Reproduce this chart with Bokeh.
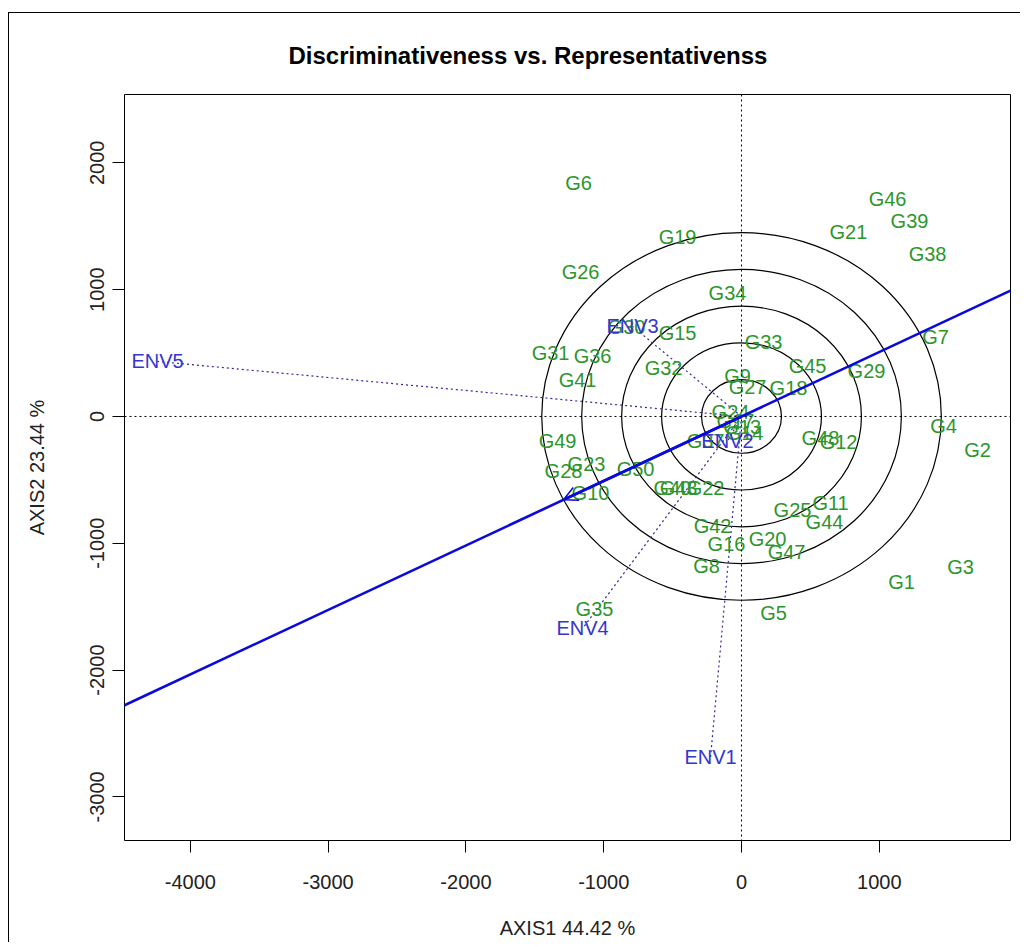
from bokeh.plotting import figure
from bokeh.models import (ColumnDataSource, Range1d, FixedTicker, Slope, Span, Arrow,
                          OpenHead, CustomJSTickFormatter)
from bokeh.core.properties import value
from bokeh.embed import file_html
from bokeh.resources import INLINE

# ---------------- data ----------------
GENOTYPES = ["G%d" % i for i in range(1, 51)]
GEN_X = [1161, 1713, 1589, 1466, 232, -1183, 1408, -254, -29, -1096,
         646, 704, 5, 22, -464, -109, -44, 341, -464, 189,
         776, -261, -1125, -80, 370, -1168, 44, -1292, 907, -835,
         -1386, -566, 160, -102, -1067, -1081, -261, 1350, 1219, -501,
         -1190, -210, -457, 602, 479, 1060, 327, 573, -1335, -769]
GEN_Y = [-1309, -268, -1191, -79, -1546, 1845, 623, -1183, 323, -607,
         -686, -205, -87, -134, 662, -1009, -39, 221, 1419, -970,
         1451, -568, -371, 32, -741, 1136, 229, -434, 355, 702,
         497, 379, 584, 970, -1522, 473, -197, 1285, 1538, -568,
         284, -860, -568, -836, 394, 1711, -1065, -166, -197, -418]

ENVIRONMENTS = ["ENV1", "ENV2", "ENV3", "ENV4", "ENV5"]
ENV_X = [-225, -102, -791, -1154, -4238]
ENV_Y = [-2689, -197, 710, -1672, 434]

AEC_X = -1292
AEC_Y = -657

CIRCLE_RADII = [290, 580, 870, 1160, 1450]

X_TICKS = [-4000, -3000, -2000, -1000, 0, 1000]
Y_TICKS = [-3000, -2000, -1000, 0, 1000, 2000]

TITLE = "Discriminativeness vs. Representativenss"
X_LABEL = "AXIS1 44.42 %"
Y_LABEL = "AXIS2 23.44 %"

# ---------------- styling ----------------
FONT = "Liberation Sans"
GREEN = "#2c962c"
BLUE_TXT = "#3535d0"
BLUE_LINE = "#0a0adc"
BLUE_DOT = "#2a2aa0"

p = figure(width=1012, height=930, output_backend="svg", toolbar_location=None,
           x_range=Range1d(-4478, 1952), y_range=Range1d(-3344, 2539),
           min_border_left=115, min_border_right=11, min_border_top=81,
           min_border_bottom=103)
p.styles = {"border-left": "1px solid black", "border-top": "1px solid black",
            "margin-top": "12px", "margin-left": "8px"}
p.xgrid.visible = False
p.ygrid.visible = False
p.outline_line_color = "black"
p.outline_line_width = 1
p.background_fill_color = "white"
p.border_fill_color = "white"

p.title.text = TITLE
p.title.align = "left"
p.title.offset = 164
p.title.standoff = 51
p.title.text_font = FONT
p.title.text_font_size = "24px"
p.title.text_font_style = "bold"
p.title.text_color = "black"

fmt = CustomJSTickFormatter(code="return tick.toFixed(0);")
for ax, ticks in ((p.xaxis[0], X_TICKS), (p.yaxis[0], Y_TICKS)):
    ax.ticker = FixedTicker(ticks=ticks)
    ax.formatter = fmt
    ax.axis_line_color = None
    ax.major_tick_out = 12
    ax.major_tick_in = 0
    ax.major_tick_line_color = "black"
    ax.minor_tick_line_color = None
    ax.major_label_text_font = FONT
    ax.major_label_text_font_size = "20px"
    ax.major_label_text_color = "#222222"
    ax.axis_label_text_font = FONT
    ax.axis_label_text_font_size = "20px"
    ax.axis_label_text_font_style = "normal"
    ax.axis_label_text_color = "#222222"

p.xaxis.axis_label = X_LABEL
p.yaxis.axis_label = Y_LABEL
p.xaxis.major_label_standoff = 22
p.xaxis.axis_label_standoff = 25
p.yaxis.major_label_orientation = "vertical"
p.yaxis.major_label_standoff = 8
p.yaxis.axis_label_standoff = 40

# reference lines through the origin
p.add_layout(Span(location=0, dimension="height", line_color="black",
                  line_dash="2 3", line_width=1))
p.add_layout(Span(location=0, dimension="width", line_color="black",
                  line_dash="2 3", line_width=1))

# concentric circles
circ = ColumnDataSource(dict(x=[0] * len(CIRCLE_RADII), y=[0] * len(CIRCLE_RADII),
                             w=[2 * r for r in CIRCLE_RADII],
                             h=[2 * r for r in CIRCLE_RADII]))
p.ellipse(x="x", y="y", width="w", height="h", source=circ, fill_color=None,
          line_color="black", line_width=1.2)

# environment vectors (dotted)
env_src = ColumnDataSource(dict(x0=[0] * len(ENV_X), y0=[0] * len(ENV_Y),
                                x=ENV_X, y=ENV_Y, name=ENVIRONMENTS))
p.segment(x0="x0", y0="y0", x1="x", y1="y", source=env_src, line_color=BLUE_DOT,
          line_dash="2 3", line_width=1.2)

# average environment axis
p.add_layout(Slope(gradient=AEC_Y / AEC_X, y_intercept=0, line_color=BLUE_LINE,
                   line_width=2.6))
p.add_layout(Arrow(end=OpenHead(size=14, line_color=BLUE_LINE, line_width=1.5),
                   x_start=0, y_start=0, x_end=AEC_X, y_end=AEC_Y,
                   line_color=BLUE_LINE, line_width=2.6))

# genotype labels
gen_src = ColumnDataSource(dict(x=GEN_X, y=GEN_Y, name=GENOTYPES))
p.text(x="x", y="y", text="name", source=gen_src, text_color=GREEN,
       text_font=value(FONT), text_font_size="20px", text_align="center",
       text_baseline="middle")

# environment labels
p.text(x="x", y="y", text="name", source=env_src, text_color=BLUE_TXT,
       text_font=value(FONT), text_font_size="20px", text_align="center",
       text_baseline="middle")

open("out.html", "w").write(file_html(p, INLINE))
